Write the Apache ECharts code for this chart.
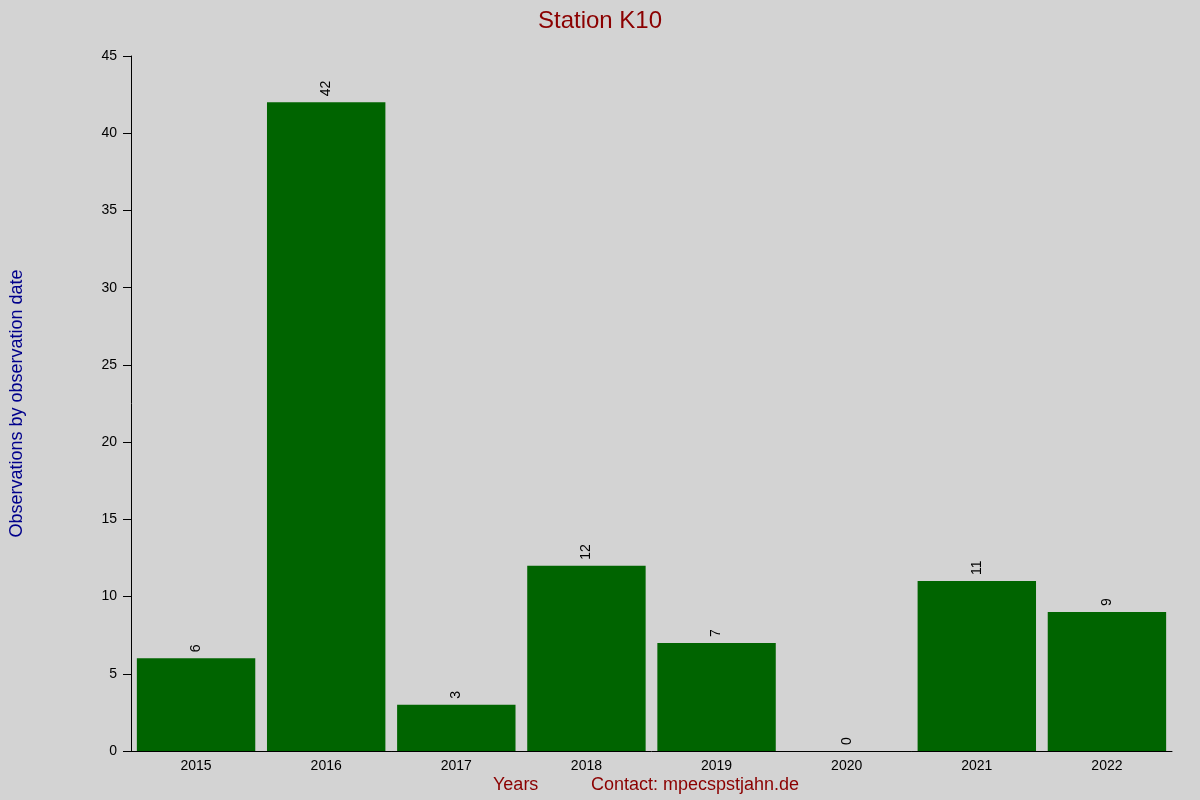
<!DOCTYPE html><html><head><meta charset="utf-8"><script src="https://cdn.jsdelivr.net/npm/echarts@6/dist/echarts.min.js"></script></head><body style="margin:0;background:#d3d3d3"><div id="c" style="width:1200px;height:800px"></div><script>
const categories=['2015','2016','2017','2018','2019','2020','2021','2022'];
const values=[6,42,3,12,7,0,11,9];
const ch=echarts.init(document.getElementById('c'));
ch.setOption({backgroundColor:'#d3d3d3',animation:false,
title:{text:'Station K10',left:'center',top:4,textStyle:{color:'#8b0000',fontSize:24,fontWeight:'normal',fontFamily:'Liberation Sans'}},
grid:{left:126,right:28,top:56,bottom:49},
graphic:[{type:'text',left:493,top:776,style:{text:'Years',fill:'#8b0000',font:'18px Liberation Sans'}},
{type:'text',left:591,top:776,style:{text:'Contact: mpecspstjahn.de',fill:'#8b0000',font:'18px Liberation Sans'}}],
xAxis:{type:'category',data:categories,axisLine:{lineStyle:{color:'#000'}},axisTick:{show:false},axisLabel:{color:'#000',fontSize:14,fontFamily:'Liberation Sans',margin:8}},
yAxis:{type:'value',min:0,max:45,interval:5,name:'Observations by observation date',nameLocation:'middle',nameGap:105,nameTextStyle:{color:'#00008b',fontSize:18,fontFamily:'Liberation Sans'},splitLine:{show:false},axisLine:{show:true,lineStyle:{color:'#000'}},axisTick:{show:true,length:8,lineStyle:{color:'#000'}},axisLabel:{color:'#000',fontSize:14,fontFamily:'Liberation Sans',margin:14}},
series:[{type:'bar',data:values,barCategoryGap:'9%',itemStyle:{color:'#006400'},label:{show:true,position:'top',rotate:90,align:'left',verticalAlign:'middle',distance:6,color:'#000',fontSize:14,fontFamily:'Liberation Sans'}}]});
</script></body></html>
